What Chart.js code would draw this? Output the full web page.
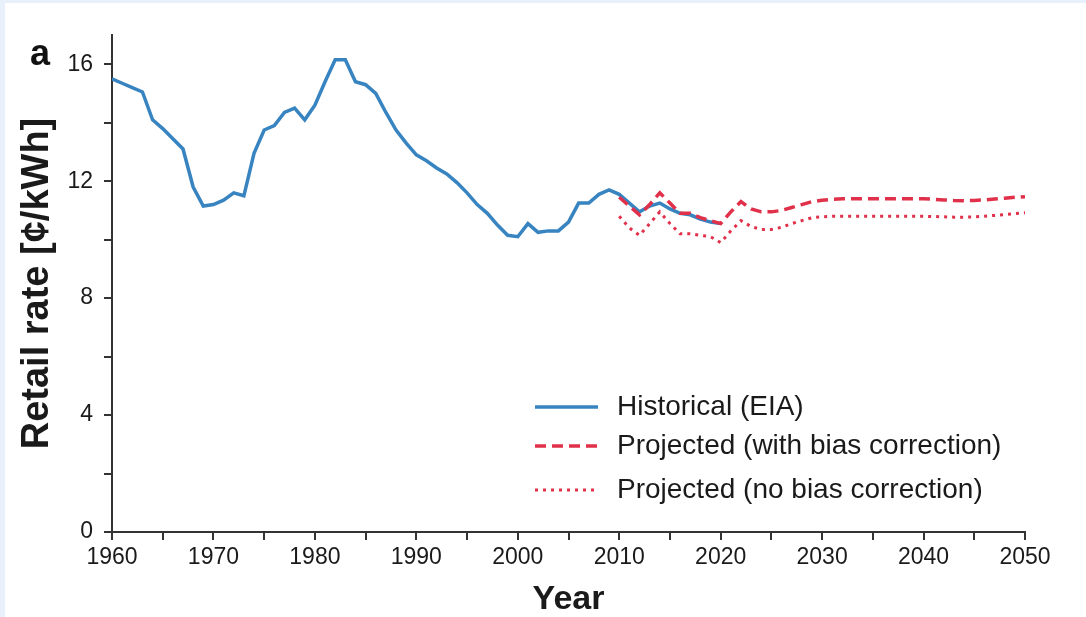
<!DOCTYPE html>
<html>
<head>
<meta charset="utf-8">
<script src="https://cdn.jsdelivr.net/npm/chart.js@4.4.1/dist/chart.umd.min.js"></script>
<style>
  html, body { margin: 0; padding: 0; width: 1086px; height: 617px; overflow: hidden; background: #e7f0fb; }
  #panel { position: absolute; left: 5px; top: 3px; width: 1081px; height: 614px; background: #ffffff; }
  canvas { display: block; }
</style>
</head>
<body>
<div id="panel"><canvas id="chart" width="1081" height="614"></canvas></div>
<script>
// Average retail electricity rate, cents per kWh
const histStartYear = 1960;
const histRate = [
  15.5, 15.35, 15.2, 15.05, 14.1, 13.8, 13.45, 13.1, 11.8, 11.15,
  11.2, 11.35, 11.6, 11.5, 12.95, 13.75, 13.9, 14.35, 14.5, 14.1,
  14.6, 15.4, 16.15, 16.15, 15.4, 15.3, 15.0, 14.35, 13.75, 13.3,
  12.9, 12.7, 12.45, 12.25, 11.95, 11.6, 11.2, 10.9, 10.5, 10.15,
  10.1, 10.55, 10.25, 10.3, 10.3, 10.6, 11.25, 11.25, 11.55, 11.7,
  11.55, 11.25, 10.95, 11.15, 11.25, 11.05, 10.9, 10.85, 10.7, 10.6, 10.55
];

const projStartYear = 2010;
const projWithBias = [
  11.45, 11.15, 10.85, 11.2, 11.6, 11.25, 10.9, 10.9, 10.75, 10.65,
  10.55, 10.95, 11.3, 11.05, 10.95, 10.95, 11.0, 11.1, 11.2, 11.3,
  11.35, 11.38, 11.4, 11.4, 11.4, 11.4, 11.4, 11.4, 11.4, 11.4,
  11.4, 11.38, 11.36, 11.34, 11.33, 11.34, 11.36, 11.39, 11.42, 11.45, 11.47
];
const projNoBias = [
  10.8, 10.4, 10.15, 10.55, 10.95, 10.55, 10.2, 10.2, 10.15, 10.1,
  9.9, 10.3, 10.65, 10.45, 10.35, 10.35, 10.42, 10.55, 10.65, 10.75,
  10.78, 10.8, 10.8, 10.8, 10.8, 10.8, 10.8, 10.8, 10.8, 10.8,
  10.8, 10.79, 10.78, 10.77, 10.77, 10.78, 10.8, 10.83, 10.86, 10.89, 10.92
];

const seriesNames = ['Historical (EIA)', 'Projected (with bias correction)', 'Projected (no bias correction)'];
const xLabelYears = [1960, 1970, 1980, 1990, 2000, 2010, 2020, 2030, 2040, 2050];
const yLabelValues = [0, 4, 8, 12, 16];

const toPoints = (start, values) => values.map((v, i) => ({ x: start + i, y: v }));

const BLUE = '#3784c0';
const RED = '#e0304a';
const AXIS = '#333333';
const TEXT = '#1a1a1a';
const FONT = "'Liberation Sans', Arial, Helvetica, sans-serif";

// Legend drawn inside the plot area, styled from the datasets themselves
const insideLegend = {
  id: 'insideLegend',
  afterDatasetsDraw(chart) {
    const { ctx } = chart;
    const rows = [404, 443, 487];
    const x0 = 530, x1 = 593, tx = 612;
    ctx.save();
    chart.data.datasets.forEach((ds, i) => {
      const y = rows[i];
      ctx.strokeStyle = ds.borderColor;
      ctx.lineWidth = ds.borderWidth;
      ctx.lineCap = ds.borderCapStyle || 'butt';
      ctx.setLineDash(ds.borderDash || []);
      ctx.beginPath();
      ctx.moveTo(x0, y);
      ctx.lineTo(x1, y);
      ctx.stroke();
      ctx.setLineDash([]);
      ctx.fillStyle = TEXT;
      ctx.font = '28px ' + FONT;
      ctx.textAlign = 'left';
      ctx.textBaseline = 'middle';
      ctx.fillText(ds.label, tx, y);
    });
    // panel letter
    ctx.font = 'bold 36px ' + FONT;
    ctx.textAlign = 'center';
    ctx.textBaseline = 'alphabetic';
    ctx.fillStyle = '#111';
    ctx.fillText('a', 35, 62);
    ctx.restore();
  }
};

new Chart(document.getElementById('chart'), {
  type: 'line',
  data: {
    datasets: [
      {
        label: seriesNames[0],
        data: toPoints(histStartYear, histRate),
        borderColor: BLUE,
        borderWidth: 3.5,
        pointRadius: 0,
        tension: 0,
        order: 3
      },
      {
        label: seriesNames[1],
        data: toPoints(projStartYear, projWithBias),
        borderColor: RED,
        borderWidth: 3.5,
        borderDash: [11, 6],
        pointRadius: 0,
        tension: 0,
        order: 1
      },
      {
        label: seriesNames[2],
        data: toPoints(projStartYear, projNoBias),
        borderColor: RED,
        borderWidth: 3,
        borderDash: [3, 5],
        pointRadius: 0,
        tension: 0,
        order: 2
      }
    ]
  },
  options: {
    responsive: false,
    animation: false,
    layout: { padding: { top: 32, right: 61, left: 0, bottom: 0 } },
    plugins: {
      legend: { display: false },
      tooltip: { enabled: false }
    },
    scales: {
      x: {
        type: 'linear',
        min: 1960,
        max: 2050,
        afterFit(scale) { scale.height = 85; },
        ticks: {
          stepSize: 5,
          autoSkip: false,
          maxRotation: 0,
          padding: 4,
          color: TEXT,
          font: { family: FONT, size: 23 },
          callback: v => xLabelYears.includes(v) ? String(v) : ''
        },
        grid: { drawOnChartArea: false, drawTicks: true, tickLength: 8, color: AXIS, lineWidth: 2 },
        border: { display: true, color: AXIS, width: 2 },
        title: {
          display: true,
          text: 'Year',
          color: TEXT,
          font: { family: FONT, size: 34, weight: 'bold', lineHeight: 1 },
          padding: { top: 0, bottom: 0 }
        }
      },
      y: {
        type: 'linear',
        min: 0,
        max: 17,
        afterBuildTicks(scale) { scale.ticks = scale.ticks.filter(t => t.value <= 16); },
        afterFit(scale) { scale.width = 107; },
        ticks: {
          stepSize: 2,
          autoSkip: false,
          padding: 11,
          color: TEXT,
          font: { family: FONT, size: 23 },
          callback: v => yLabelValues.includes(v) ? String(v) : ''
        },
        grid: { drawOnChartArea: false, drawTicks: true, tickLength: 8, color: AXIS, lineWidth: 2 },
        border: { display: true, color: AXIS, width: 2 },
        title: {
          display: true,
          text: 'Retail rate [¢/kWh]',
          color: TEXT,
          font: { family: FONT, size: 38, weight: 'bold', lineHeight: 1.2 },
          padding: { top: 10, bottom: 0 }
        }
      }
    }
  },
  plugins: [insideLegend]
});
</script>
</body>
</html>
